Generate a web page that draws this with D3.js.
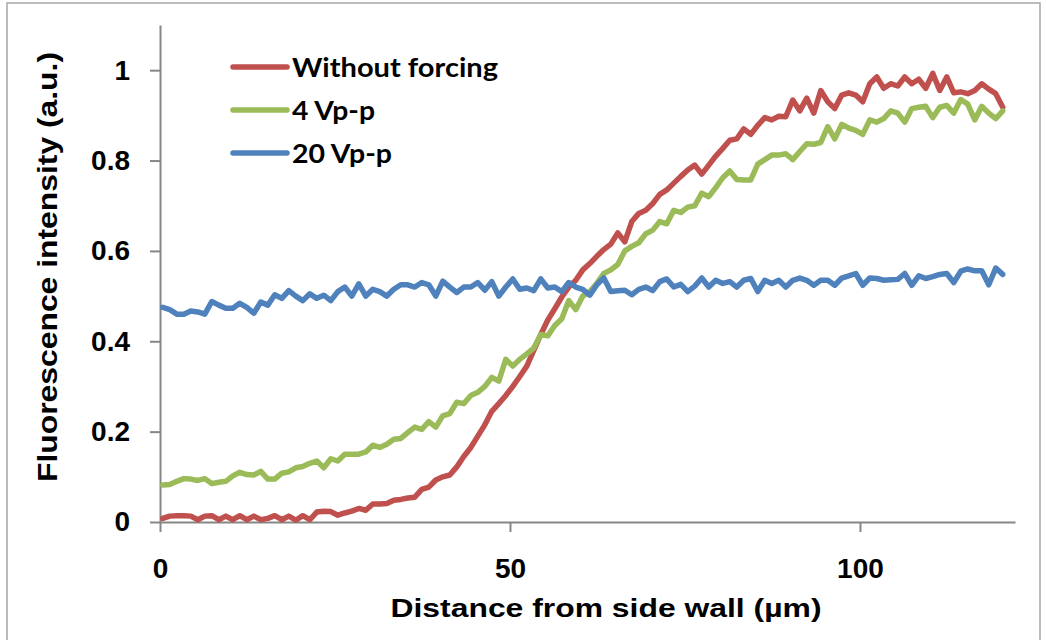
<!DOCTYPE html>
<html>
<head>
<meta charset="utf-8">
<script src="https://cdn.jsdelivr.net/npm/d3@7"></script>
<style>
  body { margin: 0; background: #fff; }
  svg { display: block; }
</style>
</head>
<body>
<svg id="chart" width="1046" height="640"></svg>
<script>
// series names as shown in the legend
var seriesNames = ["Without forcing", "4 Vp-p", "20 Vp-p"];

// fluorescence profiles, one value per micron across the channel
var withoutForcing = [
  0.008, 0.013, 0.014, 0.014, 0.013, 0.005, 0.013, 0.014, 0.005, 0.013,
  0.005, 0.014, 0.005, 0.013, 0.005, 0.008, 0.014, 0.005, 0.013, 0.004,
  0.014, 0.005, 0.022, 0.024, 0.023, 0.015, 0.020, 0.024, 0.030, 0.026,
  0.040, 0.040, 0.041, 0.048, 0.050, 0.053, 0.055, 0.072, 0.077, 0.093,
  0.100, 0.104, 0.122, 0.145, 0.165, 0.190, 0.215, 0.245, 0.262, 0.280,
  0.300, 0.322, 0.345, 0.380, 0.415, 0.447, 0.472, 0.498, 0.520, 0.535,
  0.558, 0.572, 0.588, 0.603, 0.615, 0.640, 0.620, 0.665, 0.683, 0.690,
  0.705, 0.725, 0.735, 0.750, 0.765, 0.779, 0.790, 0.770, 0.790, 0.810,
  0.827, 0.845, 0.848, 0.870, 0.858, 0.878, 0.895, 0.890, 0.898, 0.897,
  0.934, 0.910, 0.938, 0.905, 0.955, 0.930, 0.915, 0.945, 0.950, 0.945,
  0.930, 0.970, 0.985, 0.960, 0.970, 0.965, 0.985, 0.970, 0.980, 0.960,
  0.993, 0.955, 0.985, 0.950, 0.952, 0.948, 0.955, 0.970, 0.958, 0.948,
  0.918
];
var vpp4 = [
  0.082, 0.083, 0.090, 0.096, 0.095, 0.092, 0.096, 0.085, 0.088, 0.090,
  0.102, 0.110, 0.105, 0.104, 0.112, 0.095, 0.095, 0.108, 0.111, 0.120,
  0.123, 0.130, 0.135, 0.120, 0.140, 0.135, 0.150, 0.150, 0.150, 0.155,
  0.170, 0.165, 0.172, 0.183, 0.185, 0.198, 0.210, 0.205, 0.222, 0.210,
  0.235, 0.240, 0.265, 0.262, 0.280, 0.287, 0.300, 0.320, 0.312, 0.360,
  0.345, 0.360, 0.372, 0.385, 0.415, 0.412, 0.435, 0.450, 0.490, 0.470,
  0.500, 0.510, 0.528, 0.550, 0.558, 0.570, 0.600, 0.610, 0.618, 0.638,
  0.646, 0.665, 0.660, 0.690, 0.685, 0.697, 0.700, 0.728, 0.720, 0.740,
  0.762, 0.777, 0.758, 0.757, 0.757, 0.792, 0.802, 0.812, 0.812, 0.815,
  0.802, 0.820, 0.837, 0.836, 0.840, 0.875, 0.848, 0.880, 0.872, 0.867,
  0.858, 0.890, 0.885, 0.893, 0.910, 0.905, 0.885, 0.915, 0.918, 0.920,
  0.895, 0.918, 0.922, 0.905, 0.935, 0.925, 0.890, 0.920, 0.905, 0.893,
  0.910
];
var vpp20 = [
  0.475, 0.470, 0.460, 0.460, 0.467, 0.465, 0.460, 0.488, 0.480, 0.473,
  0.473, 0.484, 0.475, 0.462, 0.487, 0.480, 0.503, 0.495, 0.512, 0.500,
  0.490, 0.505, 0.495, 0.502, 0.490, 0.510, 0.520, 0.500, 0.527, 0.500,
  0.515, 0.510, 0.500, 0.515, 0.525, 0.525, 0.520, 0.530, 0.525, 0.500,
  0.533, 0.520, 0.508, 0.520, 0.520, 0.530, 0.513, 0.532, 0.500, 0.520,
  0.538, 0.515, 0.518, 0.512, 0.538, 0.518, 0.520, 0.510, 0.530, 0.520,
  0.515, 0.502, 0.525, 0.540, 0.510, 0.512, 0.513, 0.503, 0.515, 0.520,
  0.512, 0.532, 0.538, 0.520, 0.526, 0.510, 0.522, 0.540, 0.520, 0.535,
  0.528, 0.532, 0.520, 0.535, 0.539, 0.510, 0.535, 0.528, 0.535, 0.520,
  0.535, 0.540, 0.535, 0.524, 0.535, 0.535, 0.524, 0.540, 0.545, 0.550,
  0.524, 0.540, 0.539, 0.535, 0.536, 0.537, 0.550, 0.524, 0.545, 0.539,
  0.543, 0.548, 0.550, 0.530, 0.555, 0.560, 0.556, 0.556, 0.525, 0.562,
  0.548
];

// sample positions (µm from the side wall), one per value
var distance = d3.range(withoutForcing.length).map(function (i) { return 0.4 + i; });

var xTicks = [0, 50, 100];
var yTicks = [0, 0.2, 0.4, 0.6, 0.8, 1];

var colors = ["#C0504D", "#9BBB59", "#4F81BD"];
var allSeries = [withoutForcing, vpp4, vpp20];

var svg = d3.select("#chart");
var axisColor = "#868686";

// outer frame like the pasted Excel chart
svg.append("rect")
    .attr("x", 7).attr("y", 3)
    .attr("width", 1033).attr("height", 700)
    .attr("fill", "none")
    .attr("stroke", "#a6a6a6")
    .attr("stroke-width", 1.5);

var margin = { top: 25, left: 160, right: 31, bottom: 118 };
var x = d3.scaleLinear().domain([0, 122.15]).range([margin.left, 1046 - margin.right]);
var y = d3.scaleLinear().domain([0, 1.1]).range([640 - margin.bottom, margin.top]);

// x axis
var gx = svg.append("g")
    .attr("transform", "translate(0," + y(0) + ")")
    .call(d3.axisBottom(x).tickValues(xTicks).tickSize(10).tickSizeOuter(0).tickPadding(26)
        .tickFormat(d3.format("~g")));

// y axis
var gy = svg.append("g")
    .attr("transform", "translate(" + x(0) + ",0)")
    .call(d3.axisLeft(y).tickValues(yTicks).tickSize(10).tickSizeOuter(0).tickPadding(20)
        .tickFormat(d3.format("~g")));

[gx, gy].forEach(function (g) {
    g.select(".domain").attr("stroke", axisColor).attr("stroke-width", 2);
    g.selectAll(".tick line").attr("stroke", axisColor).attr("stroke-width", 2);
    g.selectAll(".tick text")
        .attr("fill", "#000")
        .attr("font-family", "'Liberation Sans', Arial, sans-serif")
        .attr("font-weight", "bold")
        .attr("font-size", 28);
});

// axis titles
svg.append("text")
    .attr("x", 606).attr("y", 617)
    .attr("text-anchor", "middle")
    .attr("font-family", "'Liberation Sans', Arial, sans-serif")
    .attr("font-weight", "bold")
    .attr("font-size", 26)
    .attr("textLength", 431)
    .attr("lengthAdjust", "spacingAndGlyphs")
    .text("Distance from side wall (µm)");

svg.append("text")
    .attr("transform", "translate(57,267) rotate(-90)")
    .attr("text-anchor", "middle")
    .attr("font-family", "'Liberation Sans', Arial, sans-serif")
    .attr("font-weight", "bold")
    .attr("font-size", 27)
    .attr("textLength", 430)
    .attr("lengthAdjust", "spacingAndGlyphs")
    .text("Fluorescence intensity (a.u.)");

// lines
var line = d3.line()
    .x(function (d, i) { return x(distance[i]); })
    .y(function (d) { return y(d); });

svg.append("g").selectAll("path")
    .data(allSeries)
    .enter().append("path")
    .attr("d", line)
    .attr("fill", "none")
    .attr("stroke", function (d, i) { return colors[i]; })
    .attr("stroke-width", 5.5)
    .attr("stroke-linejoin", "round")
    .attr("stroke-linecap", "round");

// legend
var legendWidths = [206, 83, 100];
var legend = svg.append("g")
    .selectAll("g")
    .data(seriesNames)
    .enter().append("g")
    .attr("transform", function (d, i) { return "translate(233," + (67 + i * 43) + ")"; });

legend.append("line")
    .attr("x1", 0).attr("x2", 54)
    .attr("stroke", function (d, i) { return colors[i]; })
    .attr("stroke-width", 5.5)
    .attr("stroke-linecap", "round");

legend.append("text")
    .attr("x", 59)
    .attr("y", 10)
    .attr("font-family", "Lato, 'Open Sans', sans-serif")
    .attr("font-weight", "bold")
    .attr("font-size", 27)
    .attr("textLength", function (d, i) { return legendWidths[i]; })
    .attr("lengthAdjust", "spacingAndGlyphs")
    .text(function (d) { return d; });
</script>
</body>
</html>
